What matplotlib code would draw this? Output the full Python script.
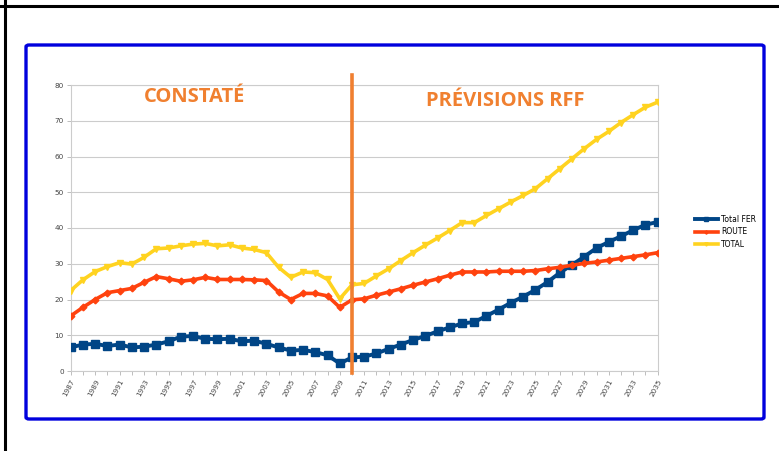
import numpy as np
import matplotlib.pyplot as plt
from matplotlib.patches import FancyBboxPatch
from matplotlib.lines import Line2D

years = list(range(1987, 2036))

total_fer = [6.6, 7.4, 7.6, 7.0, 7.4, 6.6, 6.8, 7.4, 8.3, 9.6, 9.8, 9.0, 8.9, 9.0, 8.3, 8.5,
             7.6, 6.6, 5.7, 5.9, 5.3, 4.4, 2.1, 3.8, 4.0, 4.9, 6.2, 7.4, 8.7, 9.8, 11.1, 12.2,
             13.3, 13.7, 15.4, 17.2, 19.1, 20.8, 22.7, 24.9, 27.5, 29.7, 32.0, 34.4, 36.1,
             37.7, 39.4, 40.9, 41.7]
route = [15.4, 17.8, 20.0, 21.9, 22.5, 23.1, 24.8, 26.4, 25.8, 25.1, 25.5, 26.2, 25.6, 25.6,
         25.6, 25.5, 25.3, 22.1, 20.0, 21.7, 21.7, 21.0, 17.8, 19.9, 20.2, 21.2, 22.1, 23.0,
         24.0, 24.9, 25.8, 26.8, 27.7, 27.7, 27.7, 27.9, 27.9, 27.9, 28.1, 28.6, 29.0, 29.6,
         30.1, 30.5, 31.0, 31.5, 32.0, 32.5, 33.1]
total = [22.5, 25.5, 27.8, 29.2, 30.3, 29.9, 31.8, 34.2, 34.4, 35.0, 35.5, 35.7, 35.0, 35.3,
         34.4, 34.0, 33.1, 29.0, 26.2, 27.7, 27.5, 25.6, 20.2, 24.1, 24.5, 26.6, 28.6, 30.9,
         33.1, 35.2, 37.2, 39.3, 41.5, 41.5, 43.5, 45.4, 47.3, 49.1, 51.0, 53.8, 56.6, 59.4,
         62.2, 64.8, 67.0, 69.5, 71.7, 73.8, 75.2]

series_names = ['Total FER', 'ROUTE', 'TOTAL']
split_year = 2010
label_past = 'CONSTATÉ'
label_future = 'PRÉVISIONS RFF'

W, H = 779, 451
fig = plt.figure(figsize=(W / 100, H / 100), dpi=100)

# outer black frame (top and left edges only)
fig.add_artist(Line2D([0, 1], [1 - 6 / H, 1 - 6 / H], color='black', lw=2.2))
fig.add_artist(Line2D([5 / W, 5 / W], [0, 1], color='black', lw=2.2))

# blue box around the chart
box = FancyBboxPatch((26 / W, 1 - 419 / H), (764 - 26) / W, (419 - 45) / H,
                     boxstyle='round,pad=0,rounding_size=0.004',
                     transform=fig.transFigure, fill=False, ec='#0000dd', lw=2.4)
fig.add_artist(box)

ax = fig.add_axes([70.7 / W, 1 - 371 / H, (657.7 - 70.7) / W, (371 - 85) / H])

l1, = ax.plot(years, total_fer, color='#004586', lw=2.8, marker='s', ms=5.8, zorder=3)
l2, = ax.plot(years, route, color='#ff420e', lw=2.6, marker='D', ms=3.4, zorder=3)
l3, = ax.plot(years, total, color='#ffd320', lw=2.6, marker='v', ms=4.8, zorder=3)

ax.axvline(split_year, ymin=-0.007, ymax=1.035, color='#f07f30', lw=2.6, zorder=4, clip_on=False)

ax.set_xlim(1987, 2035)
ax.set_ylim(0, 80)
ax.set_yticks(range(0, 81, 10))
ax.set_xticks(years)
ax.set_xticklabels([str(y) if (y - 1987) % 2 == 0 else '' for y in years],
                   rotation=62, ha='right', rotation_mode='anchor')
ax.tick_params(axis='both', labelsize=5.2, colors='#b3b3b3', labelcolor='#444444',
               length=3, width=0.6, pad=2)
ax.grid(axis='y', color='#cccccc', lw=0.8)
ax.set_axisbelow(True)
for s in ax.spines.values():
    s.set_color('#cccccc')
    s.set_linewidth(0.8)

ax.text(1997.1, 76.6, label_past, color='#f08030', fontsize=14.5, fontweight='bold',
        family='Open Sans', ha='center', va='center')
ax.text(2022.5, 75.6, label_future, color='#f08030', fontsize=14.5, fontweight='bold',
        family='Open Sans', ha='center', va='center')

fig.legend([l1, l2, l3], series_names, loc='center left',
           bbox_to_anchor=(688 / W, 1 - 232 / H), frameon=False, fontsize=5.5,
           handlelength=3.0, labelspacing=0.45, handletextpad=0.4, markerscale=0.5)

fig.savefig('out.png', dpi=100)
